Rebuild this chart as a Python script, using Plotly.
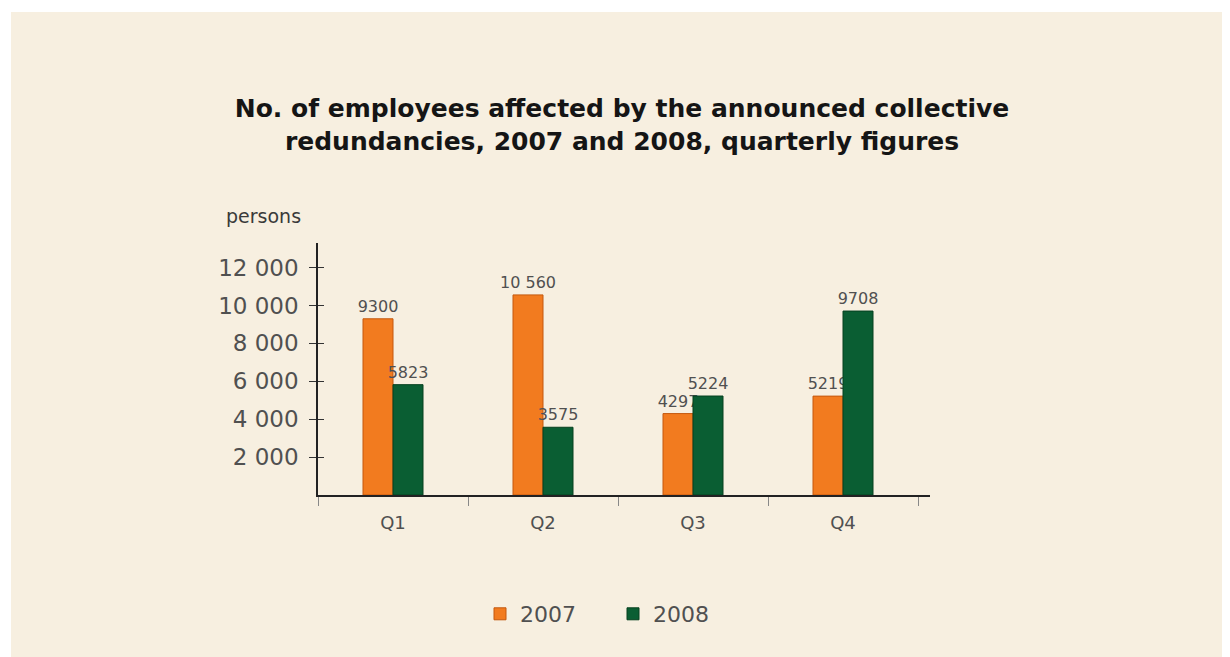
import plotly.graph_objects as go

categories = ["Q1", "Q2", "Q3", "Q4"]
values_2007 = [9300, 10560, 4297, 5219]
values_2008 = [5823, 3575, 5224, 9708]
labels_2007 = ["9300", "10 560", "4297", "5219"]
labels_2008 = ["5823", "3575", "5224", "9708"]
y_ticks = [2000, 4000, 6000, 8000, 10000, 12000]
y_tick_labels = ["2 000", "4 000", "6 000", "8 000", "10 000", "12 000"]

ORANGE = "#F27B1F"
ORANGE_EDGE = "#C4580E"
GREEN = "#0A5E33"
GREEN_EDGE = "#06401F"
BG = "#F7EFE0"
FONT = "DejaVu Sans"
TXT = "#505050"

# page body has an 8px margin; work in screen pixels and convert
OFF = 8
W, H = 1230 - OFF, 657 - OFF
PL, PR, PT, PB = 318, 930, 243, 495  # plot area in screen px


def px(x):
    return (x - PL) / (PR - PL)


def py(y):
    return (PB - y) / (PB - PT)


fig = go.Figure()
fig.add_trace(go.Bar(
    name="2007", x=categories, y=values_2007, text=labels_2007,
    textposition="outside", cliponaxis=False, constraintext="none",
    marker=dict(color=ORANGE, line=dict(color=ORANGE_EDGE, width=1)),
    textfont=dict(family=FONT, size=16, color=TXT),
))
fig.add_trace(go.Bar(
    name="2008", x=categories, y=values_2008, text=labels_2008,
    textposition="outside", cliponaxis=False, constraintext="none",
    marker=dict(color=GREEN, line=dict(color=GREEN_EDGE, width=1)),
    textfont=dict(family=FONT, size=16, color=TXT),
))

# helper trace on overlay axis for the inner half of the crossing y ticks
fig.add_trace(go.Scatter(x=[None], y=[None], yaxis="y2", showlegend=False, hoverinfo="skip"))

fig.update_layout(
    width=W, height=H,
    paper_bgcolor="white",
    plot_bgcolor=BG,
    barmode="group",
    bargap=0.6,
    bargroupgap=0,
    margin=dict(l=PL - OFF, r=W - (PR - OFF), t=PT - OFF, b=H - (PB - OFF)),
    font=dict(family=FONT, color=TXT),
    title=dict(
        text="No. of employees affected by the announced collective<br>redundancies, 2007 and 2008, quarterly figures",
        x=(622 - OFF) / W, xanchor="center",
        y=1 - (117 - OFF) / H, yanchor="middle",
        font=dict(family=FONT, size=25, color="#151515", weight="bold"),
    ),
    xaxis=dict(
        range=[-0.5, 3.58],
        showline=True, linecolor="#222222", linewidth=1.5,
        ticks="outside", ticklen=9, tickcolor="#888888", tickwidth=1,
        tickson="boundaries",
        ticklabelstandoff=11,
        tickfont=dict(family=FONT, size=18, color=TXT),
        showgrid=False, zeroline=False,
    ),
    yaxis=dict(
        range=[0, 13300],
        tickvals=y_ticks, ticktext=y_tick_labels,
        showline=True, linecolor="#222222", linewidth=1.5,
        ticks="outside", ticklen=7, tickcolor="#333333", tickwidth=1.2,
        ticklabelstandoff=6,
        tickfont=dict(family=FONT, size=23, color=TXT),
        showgrid=False, zeroline=False,
    ),
    yaxis2=dict(
        range=[0, 13300], overlaying="y", side="left",
        tickvals=y_ticks, showticklabels=False,
        ticks="inside", ticklen=6, tickcolor="#333333", tickwidth=1.2,
        showgrid=False, zeroline=False, showline=False,
    ),
    legend=dict(
        orientation="h",
        x=px(613), xanchor="center",
        y=py(614), yanchor="middle",
        font=dict(family=FONT, size=22, color=TXT),
        bgcolor="rgba(0,0,0,0)",
        itemwidth=30,
        entrywidth=88,
    ),
    annotations=[
        dict(text="persons", xref="paper", yref="paper",
             x=px(303), xanchor="right",
             y=py(216), yanchor="middle",
             showarrow=False,
             font=dict(family=FONT, size=19, color="#3a3a3a")),
    ],
    shapes=[
        dict(type="rect", xref="paper", yref="paper", layer="below",
             x0=px(11), x1=px(1240),
             y0=py(670), y1=py(12),
             fillcolor=BG, line=dict(width=0)),
    ],
)

fig.write_html("out.html")
